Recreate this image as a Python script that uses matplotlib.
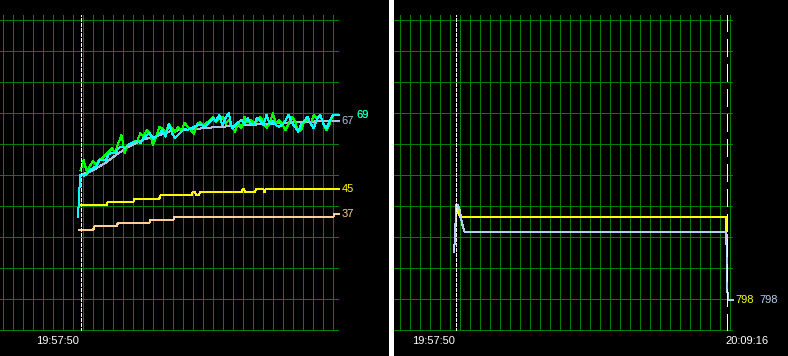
import numpy as np
import matplotlib
matplotlib.use("Agg")
import matplotlib.pyplot as plt
from matplotlib.patches import Rectangle

plt.rcParams['font.family'] = ['Liberation Sans', 'DejaVu Sans']
plt.rcParams['lines.scale_dashes'] = False

W, H = 788, 356
PX = 0.72  # points per pixel at dpi 100
SEC_PER_PX = 2.537

# ---------------- data: left panel (seconds from 19:57:50) ----------------
cyan_time = np.concatenate([[-6, -4, -2], np.arange(0, 648, 8)])
cyan_vals = [36.5, 43, 47,
             50, 49.8, 50.2, 51.6, 52.3, 52.7, 54.8, 55, 54.6, 56.8,
             57.1, 57, 58.8, 59.1, 58.7, 59.6, 60.3, 60.7, 60.9, 60.3,
             62, 63, 63.5, 61.7, 62.4, 63.4, 64.5, 62.4, 66.5, 63.5,
             62, 63, 64, 65, 64.5, 65, 65.5, 66, 66.2, 65.8,
             66, 67.2, 68.3, 67.5, 69.4, 66, 68.4, 70, 65, 66,
             67, 67.8, 66.6, 68.4, 66.5, 66, 68.5, 67.5, 66, 69.4,
             66.5, 67.5, 66, 65.6, 66.2, 67.5, 69.4, 67, 65.5, 64,
             66.5, 67.5, 68.8, 66.5, 65, 68, 69.4, 66.5, 65, 67.5, 69.2]

green_time = np.arange(0, 648, 8)
green_vals = [51.5, 54.8, 51, 53, 54.5, 53.2, 55, 55.5, 56.5, 57.5,
              58.7, 57.1, 60.3, 62.9, 57.1, 59.7, 60.2, 60.8, 61, 63.5,
              62.4, 64.5, 63.5, 59.7, 62.4, 65.6, 65, 63.5, 66.5, 65,
              64, 65.5, 64, 66.8, 65.5, 64.5, 63.2, 66.5, 67, 66,
              66.8, 67.7, 68.8, 67, 68.5, 68.8, 66.5, 67.7, 65.5, 64,
              67, 65, 68.8, 67, 67.7, 66.5, 67.7, 68.8, 67, 65.2,
              66.5, 70, 66.5, 67.7, 66.5, 64.5, 66.5, 68.8, 67.5, 64,
              64.5, 67.5, 68.2, 66.5, 69.4, 68, 69.4, 66.5, 64.5, 66.5, 69.3]

steel_time = np.arange(0, 672, 32)
steel_vals = [50, 51.5, 54, 57, 59.5, 61.5, 62.5, 64, 64.5, 64.8, 65.2,
              65.5, 65.8, 66, 66.3, 66.5, 66.8, 67, 67.2, 67.3, 67.4]

yellow_time = [0, 66.5, 69, 134, 136.5, 200, 202.5, 282, 284.5, 290.5, 293,
               300.5, 303, 409, 411.5, 415, 417.5, 442.5, 445, 464, 467,
               469.5, 640]
yellow_vals = [40.4, 40.4, 41.4, 41.4, 42.4, 42.4, 43.4, 43.4, 44.4, 44.4,
               43.4, 43.4, 44.4, 44.4, 45.4, 45.4, 44.4, 44.4, 45.4, 45.4,
               44.4, 45.4, 45.4]

peach_time = [-4, 32.5, 35, 92, 94.4, 174.5, 177, 235.4, 238, 641, 644]
peach_vals = [32.4, 32.4, 33.4, 33.4, 34.4, 34.4, 35.4, 35.4, 36.4, 36.4, 37.4]

# ---------------- data: right panel ----------------
rblue_time = [-5.8, -4, -1.5, 0, 4.3, 8.6, 14.5, 21.3, 685, 686.5, 688.5]
rblue_vals = [952, 985, 1060, 1103, 1103, 1087, 1044, 1015, 1015, 900, 798]
ryellow_time = [0, 3, 10.5, 685, 686.5, 688.5]
ryellow_vals = [1103, 1085, 1063.5, 1063.5, 900, 798]

left_marks = [0]
left_mark_labels = ["19:57:50"]
right_marks = [0, 686]
right_mark_labels = ["19:57:50", "20:09:16"]

GRID = '#008000'
C_GREEN = '#00ff00'
C_CYAN = '#00ffff'
C_STEEL = '#aebfe0'
C_YELLOW = '#ffff00'
C_PEACH = '#ffcf94'
C_RBLUE = '#b4ccf4'

fig = plt.figure(figsize=(W / 100, H / 100), dpi=100, facecolor='black')


def px_axes(x0, x1, y0, y1):
    return fig.add_axes([x0 / W, 1 - y1 / H, (x1 - x0) / W, (y1 - y0) / H])


def style(ax, xl, yl, xgrid, ygrid):
    ax.set_facecolor('black')
    ax.set_xlim(*xl)
    ax.set_ylim(*yl)
    ax.set_xticks(xgrid)
    ax.set_yticks(ygrid)
    ax.tick_params(length=0, labelbottom=False, labelleft=False)
    for s in ax.spines.values():
        s.set_visible(False)
    ax.set_axisbelow(True)
    ax.grid(True, color=GRID, lw=1.0 * PX, antialiased=False)


def draw(ax, t, v, color):
    xr = ax.get_xlim()[1]
    t = np.append(np.asarray(t, float), xr)
    v = np.append(np.asarray(v, float), v[-1])
    ax.plot(t, v, color=color, lw=1.0 * PX, antialiased=False, clip_on=False)


def end_label(ax, v, color, off_px):
    ax.annotate(f"{int(v[-1])}", xy=(1, v[-1]), xycoords=('axes fraction', 'data'),
                xytext=(off_px * PX, 0), textcoords='offset points',
                color=color, fontsize=8, ha='left', va='center')


# ---------------- left panel ----------------
axL = px_axes(0, 339, 15, 331)
xl = ((0 - 80.5) * SEC_PER_PX, (339 - 80.5) * SEC_PER_PX)
yl = (-1 / 3.1, (330 - 15) / 3.1)
style(axL, xl, yl, (np.arange(3.3, 339, 10) - 80.5) * SEC_PER_PX, np.arange(0, 101, 10))

draw(axL, yellow_time, yellow_vals, C_YELLOW)
draw(axL, peach_time, peach_vals, C_PEACH)
draw(axL, steel_time, steel_vals, C_STEEL)
draw(axL, green_time, green_vals, C_GREEN)
draw(axL, cyan_time, cyan_vals, C_CYAN)
for m in left_marks:
    axL.axvline(m, color='white', lw=1.0 * PX, dashes=(3 * PX, 2 * PX), antialiased=False)

end_label(axL, steel_vals, C_STEEL, 2.7)
end_label(axL, green_vals, C_GREEN, 17)
end_label(axL, cyan_vals, C_CYAN, 17)
end_label(axL, yellow_vals, C_YELLOW, 2.7)
end_label(axL, peach_vals, C_PEACH, 2.7)

axL.annotate(left_mark_labels[0], xy=(left_marks[0], 0), xycoords=('data', 'axes fraction'),
             xytext=(-1.5 * PX, -10 * PX), textcoords='offset points',
             color='white', fontsize=8, ha='right', va='center')

# ---------------- right panel ----------------
axR = px_axes(394, 733, 15, 331)
xr = ((394 - 456.3) * SEC_PER_PX, (733 - 456.3) * SEC_PER_PX)
yr = (700 - 100 / 31, 700 + 315 / 0.31)
style(axR, xr, yr, (np.arange(399.7, 733, 10) - 456.3) * SEC_PER_PX, np.arange(700, 1701, 100))

draw(axR, ryellow_time, ryellow_vals, C_YELLOW)
draw(axR, rblue_time, rblue_vals, C_RBLUE)
axR.axvline(right_marks[0], color='white', lw=1.0 * PX, dashes=(3 * PX, 2 * PX), antialiased=False)
axR.axvline(right_marks[1], color='white', lw=1.0 * PX, dashes=(17 * PX, 7 * PX), antialiased=False)

end_label(axR, ryellow_vals, C_YELLOW, 2.7)
end_label(axR, rblue_vals, C_RBLUE, 26)

axR.annotate(right_mark_labels[0], xy=(right_marks[0], 0), xycoords=('data', 'axes fraction'),
             xytext=(-1.5 * PX, -10 * PX), textcoords='offset points',
             color='white', fontsize=8, ha='right', va='center')
axR.annotate(right_mark_labels[1], xy=(right_marks[1], 0), xycoords=('data', 'axes fraction'),
             xytext=(-1 * PX, -10 * PX), textcoords='offset points',
             color='white', fontsize=8, ha='left', va='center')

# white divider bar
fig.patches.append(Rectangle((389 / W, 0), 5 / W, 1, transform=fig.transFigure,
                             facecolor='white', edgecolor='none'))

fig.savefig('out.png', dpi=100, facecolor='black')
